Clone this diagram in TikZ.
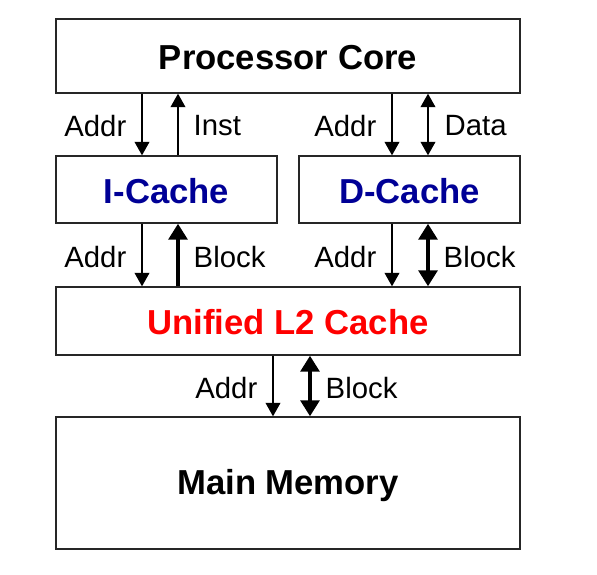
\documentclass[tikz,border=0pt]{standalone}
\usepackage{fontspec}
\setmainfont{Liberation Sans}
\usetikzlibrary{arrows.meta}
\definecolor{cachblue}{RGB}{0,0,150}
\definecolor{l2red}{RGB}{255,0,0}
\begin{document}
\begin{tikzpicture}[x=0.75pt,y=-0.75pt,
  box/.style={draw=black!85,line width=1.6pt},
  title/.style={font=\fontsize{26}{30}\selectfont\bfseries},
  lab/.style={font=\fontsize{22}{26}\selectfont},
  thin/.style={line width=1pt,-{Triangle[length=10pt,width=11pt]}},
  thinb/.style={line width=1pt,{Triangle[length=10pt,width=11pt]}-{Triangle[length=10pt,width=11pt]}},
  thick/.style={line width=3.2pt,-{Triangle[length=12pt,width=14pt]}},
  thickb/.style={line width=3.2pt,{Triangle[length=12pt,width=14pt]}-{Triangle[length=12pt,width=14pt]}}]
\useasboundingbox (0,0) rectangle (597,575);
% boxes
\draw[box] (56,19) rectangle (520,93);
\node[title] (pc) at (288,57.5) {Processor Core};
\draw[box] (56,156) rectangle (277,223);
\node[title,text=cachblue] (ic) at (166.5,191) {I-Cache};
\draw[box] (299,156) rectangle (520,223);
\node[title,text=cachblue] (dc) at (409.5,191) {D-Cache};
\draw[box] (56,287) rectangle (520,355);
\node[title,text=l2red] (l2) at (288,322) {Unified L2 Cache};
\draw[box] (56,417) rectangle (520,549);
\node[title] (mm) at (288,486) {Main Memory};
% coordinates
\coordinate (a1t) at (142,93.7);  \coordinate (a1b) at (142,155.3);
\coordinate (i1t) at (178,93.7);  \coordinate (i1b) at (178,155.3);
\coordinate (a2t) at (392,93.7);  \coordinate (a2b) at (392,155.3);
\coordinate (d2t) at (428,93.7);  \coordinate (d2b) at (428,155.3);
\coordinate (a3t) at (142,223.7); \coordinate (a3b) at (142,286.3);
\coordinate (b3t) at (178,223.7); \coordinate (b3b) at (178,286.3);
\coordinate (a4t) at (392,223.7); \coordinate (a4b) at (392,286.3);
\coordinate (b4t) at (428,223.7); \coordinate (b4b) at (428,286.3);
\coordinate (a5t) at (273,355.7); \coordinate (a5b) at (273,416.3);
\coordinate (b5t) at (310,355.7); \coordinate (b5b) at (310,416.3);
% arrows
\draw[thin] (a1t) -- (a1b);
\draw[thin] (i1b) -- (i1t);
\draw[thin] (a2t) -- (a2b);
\draw[thinb] (d2t) -- (d2b);
\draw[thin] (a3t) -- (a3b);
\draw[thick] (b3b) -- (b3t);
\draw[thin] (a4t) -- (a4b);
\draw[thickb] (b4t) -- (b4b);
\draw[thin] (a5t) -- (a5b);
\draw[thickb] (b5t) -- (b5b);
% labels
\node[lab,anchor=east] (la1) at (131,126) {Addr};
\node[lab,anchor=west] (li1) at (189,126) {Inst};
\node[lab,anchor=east] (la2) at (381,126) {Addr};
\node[lab,anchor=west] (ld2) at (440,126) {Data};
\node[lab,anchor=east] (la3) at (131,257) {Addr};
\node[lab,anchor=west] (lb3) at (189,257) {Block};
\node[lab,anchor=east] (la4) at (381,257) {Addr};
\node[lab,anchor=west] (lb4) at (439,257) {Block};
\node[lab,anchor=east] (la5) at (262,388) {Addr};
\node[lab,anchor=west] (lb5) at (321,388) {Block};
\end{tikzpicture}
\end{document}
